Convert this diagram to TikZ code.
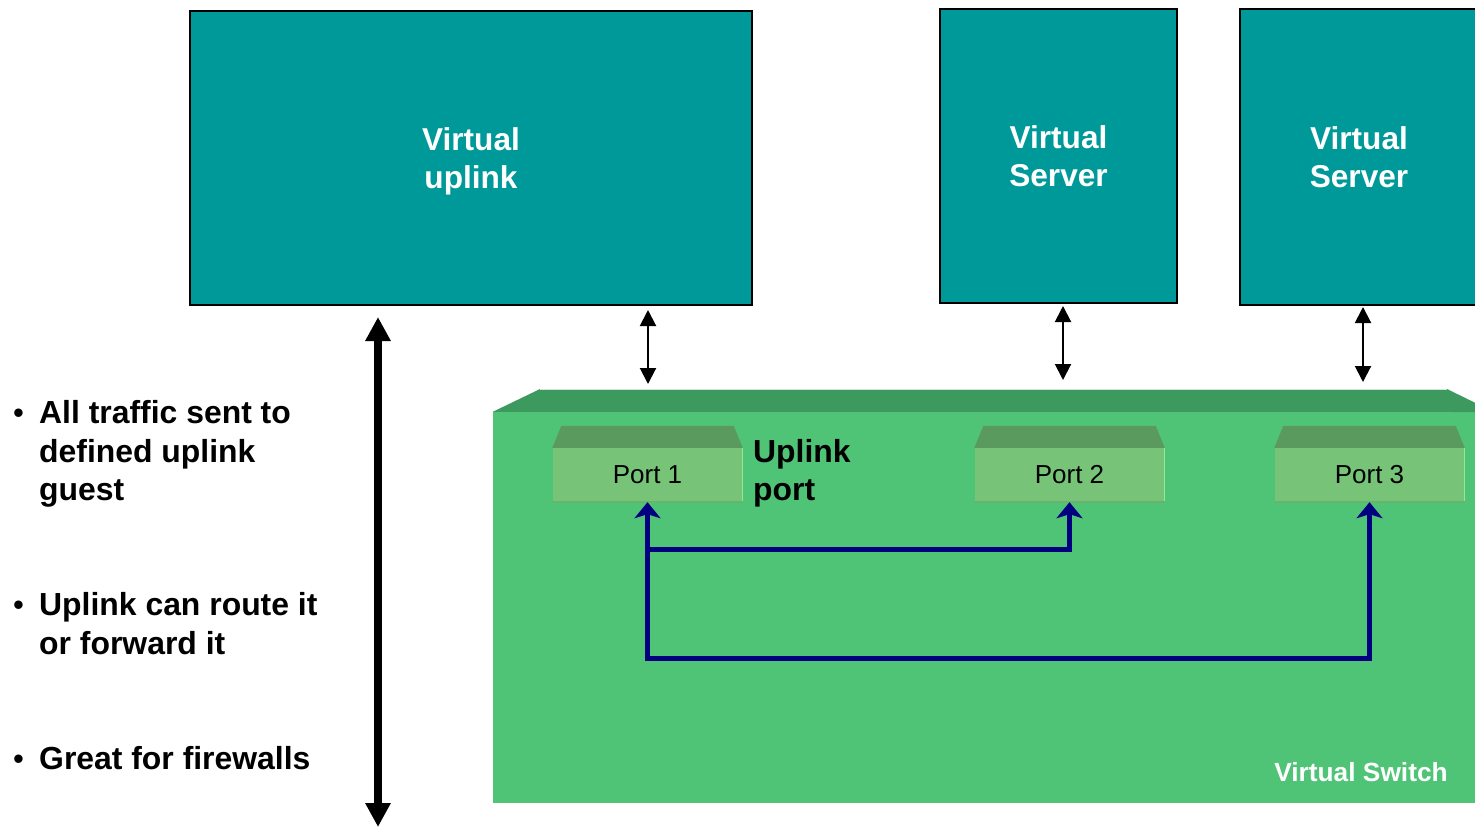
\documentclass[tikz,border=0pt]{standalone}
\usepackage{fontspec}
\setmainfont{Liberation Sans}
\usetikzlibrary{arrows.meta,calc}
\definecolor{teal1}{RGB}{0,153,153}
\definecolor{swfront}{RGB}{79,196,119}
\definecolor{swtop}{RGB}{61,154,94}
\definecolor{portfront}{RGB}{119,196,121}
\definecolor{porttop}{RGB}{91,154,95}
\definecolor{portedge}{RGB}{150,230,150}
\definecolor{portbottom}{RGB}{104,180,106}
\definecolor{navy1}{RGB}{0,0,128}
\begin{document}
\begin{tikzpicture}[x=1pt,y=-1pt,
  vbox/.style={draw=black,line width=2pt,fill=teal1,inner sep=0pt,text=white,
    font=\bfseries\fontsize{31.6}{38.5}\selectfont,align=center,text depth=0pt},
  portbox/.style={fill=portfront,inner sep=0pt,minimum width=190pt,minimum height=54pt,
    font=\fontsize{26}{30}\selectfont,text depth=0pt},
  bigtxt/.style={inner sep=0pt,align=left,font=\bfseries\fontsize{31.9}{38.5}\selectfont},
  bul/.style={inner sep=0pt,anchor=base,font=\fontsize{31}{38.5}\selectfont},
  dbl/.style={line width=2pt,{Triangle[width=16pt,length=16pt]}-{Triangle[width=16pt,length=16pt]}},
  bigdbl/.style={line width=8pt,{Triangle[width=24pt,length=24pt]}-{Triangle[width=24pt,length=24pt]}},
  nav/.style={draw=navy1,line width=5pt},
  navtip/.tip={Stealth[width=26pt,length=16pt,inset=4pt]}
]
\clip (0,0) rectangle (1475,828);
\fill[white] (0,0) rectangle (1475,828);

% top boxes
\node[vbox,minimum width=562pt,minimum height=294pt] (uplink) at (471,158) {Virtual\\uplink};
\node[vbox,minimum width=237pt,minimum height=294pt] (srv1) at (1058.5,156) {Virtual\\Server};
\node[vbox,minimum width=238pt,minimum height=296pt] (srv2) at (1359,157) {Virtual\\Server};

% switch
\node[fill=swfront,inner sep=0pt,minimum width=1007pt,minimum height=391pt] (sw) at (996.5,607.5) {};
\fill[swtop] (sw.north west) -- (540,389) -- (1447,389) -- (1494,412) -- cycle;
\draw[white!75!swtop,line width=0.8pt] (540,389.4) -- (1447,389.4);
\node[text=white,inner sep=0pt,font=\bfseries\fontsize{26.3}{30}\selectfont] (swlbl) at (1361,772) {Virtual Switch};

% ports
\foreach \n/\x in {p1/647.5,p2/1069.5,p3/1369.5}{
  \node[portbox] (\n) at (\x,475) {};
  \fill[porttop] (\n.north west) -- ++(9,-22) -- ($(\n.north east)+(-9,-22)$) -- (\n.north east) -- cycle;
  \draw[portedge,line width=1.5pt] (\n.north east) -- (\n.south east);
  \draw[portbottom,line width=1.5pt] (\n.south west) -- (\n.south east);
}
\node[inner sep=0pt,font=\fontsize{26}{30}\selectfont] at (p1) {Port 1};
\node[inner sep=0pt,font=\fontsize{26}{30}\selectfont] at (p2) {Port 2};
\node[inner sep=0pt,font=\fontsize{26}{30}\selectfont] at (p3) {Port 3};

\node[bigtxt,anchor=north west] (upl) at (753,439) {Uplink\\port};

% small double arrows
\coordinate (a1t) at (648,310); \coordinate (a1b) at (648,384);
\coordinate (a2t) at (1063,306); \coordinate (a2b) at (1063,380);
\coordinate (a3t) at (1363,307); \coordinate (a3b) at (1363,382);
\draw[dbl] (a1t) -- (a1b);
\draw[dbl] (a2t) -- (a2b);
\draw[dbl] (a3t) -- (a3b);

% big arrow
\coordinate (bt) at (378,317); \coordinate (bb) at (378,827);
\draw[bigdbl] (bt) -- (bb);

% navy connectors
\coordinate (lowY) at (0,658);
\coordinate (midY) at (0,549.5);
\draw[nav,navtip-navtip] (p1.south) |- (lowY -| p3.south) -- (p3.south);
\draw[nav,-navtip] (p1.south |- midY) -| (p2.south);

% bullets
\node[bul] (b1) at (18.5,423) {•};
\node[bigtxt,anchor=north west] (t1) at (39,400.5) {All traffic sent to\\defined uplink\\guest};
\node[bul] (b2) at (18.5,615) {•};
\node[bigtxt,anchor=north west] (t2) at (39,592.5) {Uplink can route it\\or forward it};
\node[bul] (b3) at (18.5,769) {•};
\node[bigtxt,anchor=north west] (t3) at (39,746.5) {Great for firewalls};
\end{tikzpicture}
\end{document}
